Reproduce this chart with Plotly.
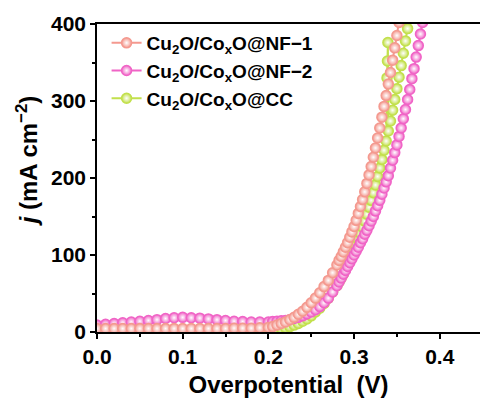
import plotly.graph_objects as go

# Potential grid (V): 10 mV steps on the baseline, 5 mV through the knee, 2.5 mV on the steep rise
POTENTIAL = [
    0.00, 0.01, 0.02, 0.03, 0.04, 0.05, 0.06, 0.07, 0.08, 0.09,
    0.10, 0.11, 0.12, 0.13, 0.14, 0.15, 0.16, 0.17, 0.18, 0.19,
    0.20, 0.205, 0.21, 0.215, 0.22, 0.225, 0.23, 0.235, 0.24, 0.245,
    0.25, 0.255, 0.26, 0.265, 0.27, 0.275, 0.28,
    0.2825, 0.285, 0.2875, 0.29, 0.2925, 0.295, 0.2975, 0.30,
    0.3025, 0.305, 0.3075, 0.31, 0.3125, 0.315, 0.3175, 0.32,
    0.3225, 0.325, 0.3275, 0.33, 0.3325, 0.335, 0.3375, 0.34,
    0.3425, 0.345, 0.3475, 0.35, 0.3525, 0.355, 0.3575, 0.36,
    0.3625, 0.365, 0.3675, 0.37, 0.3725, 0.375, 0.3775, 0.38,
]

# Current density (mA cm^-2) for each electrode
J_NF1 = [
    4.5, 4.5, 4.5, 4.5, 4.5, 4.5, 4.5, 4.5, 4.5, 4.5,
    4.5, 4.5, 4.5, 4.5, 4.5, 4.5, 5, 5, 5, 5.5,
    6, 7, 9, 11, 13, 16, 19, 23, 27, 32,
    38, 44, 51, 59, 67, 77, 87,
    93, 98, 104, 110, 116, 123, 130, 137,
    145, 154, 163, 172, 182, 193, 204, 215,
    227, 239, 252, 265, 279, 293, 307, 322,
    337, 353, 369, 385, 402, 420,
]
J_NF2 = [
    9, 10, 11, 12, 13, 14, 15, 16, 17.5, 18.5,
    19, 18.5, 18, 17, 16, 15, 14, 13.5, 13, 13,
    13, 13.5, 14, 14.5, 15, 16, 17.5, 19, 21, 23.5,
    26, 29, 33, 38, 44, 52, 60,
    65, 70, 75, 80, 85, 90, 95, 100,
    105, 110, 116, 121, 127, 132, 138, 144,
    150, 157, 164, 171, 179, 187, 195, 203,
    213, 223, 233, 243, 254, 265, 277, 289,
    302, 315, 329, 342, 357, 372, 387, 402,
]
J_CC = [
    2, 2, 2, 2, 2, 2, 2, 2, 2, 2,
    2, 2, 2, 2, 2, 2, 2, 2, 2, 2,
    2.5, 3, 3.5, 4.5, 5.5, 7, 9, 11, 14, 17,
    21, 26, 31, 37, 44, 52, 60,
    65, 70, 75, 81, 87, 93, 99, 106,
    113, 120, 128, 136, 144, 153, 162, 171,
    181, 191, 202, 213, 224, 236, 248, 261,
    274, 288, 302, 316, 331, 346, 362, 378,
    394, 410,
]
# Noisy excursions recorded on the CC electrode near the top of the sweep
CC_SPIKE_V = [0.3385, 0.339, 0.3395]
CC_SPIKE_J = [330, 352, 376]

LABELS = [
    "Cu<sub>2</sub>O/Co<sub>x</sub>O@NF−1",
    "Cu<sub>2</sub>O/Co<sub>x</sub>O@NF−2",
    "Cu<sub>2</sub>O/Co<sub>x</sub>O@CC",
]
COLORS = ["#F4998F", "#F064C6", "#C2E04C"]

X_TICKS = [0.0, 0.1, 0.2, 0.3, 0.4]
Y_TICKS = [0, 100, 200, 300, 400]

# merge the CC spikes into the sweep in potential order
cc_pairs = sorted(list(zip(POTENTIAL[:len(J_CC)], J_CC)) + list(zip(CC_SPIKE_V, CC_SPIKE_J)))
cc_v = [p[0] for p in cc_pairs]
cc_j = [p[1] for p in cc_pairs]

series = [
    (LABELS[2], COLORS[2], cc_v, cc_j, 3),
    (LABELS[1], COLORS[1], POTENTIAL[:len(J_NF2)], J_NF2, 2),
    (LABELS[0], COLORS[0], POTENTIAL[:len(J_NF1)], J_NF1, 1),
]

FONT = "Liberation Sans, Arial, sans-serif"

fig = go.Figure()
for name, color, xv, yv, rank in series:
    fig.add_trace(go.Scatter(
        x=xv, y=yv, name=name, mode="lines+markers",
        legendrank=rank,
        line=dict(color=color, width=2),
        marker=dict(
            symbol="circle", size=10, color=color,
            gradient=dict(type="radial", color="white"),
            line=dict(width=1.5, color=color),
        ),
    ))

axis_common = dict(
    showline=True, linecolor="black", linewidth=1.5,
    ticks="outside", ticklen=5, tickwidth=1.5, tickcolor="black",
    showgrid=False, zeroline=False,
    tickfont=dict(family=FONT, size=21, color="black", weight="bold"),
)

fig.update_xaxes(
    range=[0, 0.447], tickvals=X_TICKS, ticktext=[f"{v:.1f}" for v in X_TICKS],
    mirror=True,
    minor=dict(dtick=0.05, ticks="outside", ticklen=3, tickwidth=1.5, tickcolor="black"),
    title=dict(text="Overpotential  (V)", standoff=9,
               font=dict(family=FONT, size=24, color="black", weight="bold")),
    **axis_common,
)
fig.update_yaxes(
    range=[0, 400], tickvals=Y_TICKS, ticksuffix=" ",
    minor=dict(dtick=50, ticks="outside", ticklen=3, tickwidth=1.5, tickcolor="black"),
    **axis_common,
)

fig.add_annotation(
    text="<i>j</i> (mA cm<sup>−2</sup>)", textangle=-90,
    xref="paper", yref="paper", x=-0.182, y=0.555,
    xanchor="center", yanchor="middle", showarrow=False,
    font=dict(family=FONT, size=24, color="black", weight="bold"),
)

fig.update_layout(
    width=480, height=401,
    margin=dict(l=97, r=0, t=24, b=69),
    paper_bgcolor="white", plot_bgcolor="white",
    showlegend=True,
    legend=dict(
        x=0.025, y=1.0, xanchor="left", yanchor="top",
        bgcolor="rgba(0,0,0,0)", borderwidth=0,
        font=dict(family=FONT, size=19, color="black", weight="bold"),
        tracegroupgap=0,
    ),
)

fig.write_html("out.html")
